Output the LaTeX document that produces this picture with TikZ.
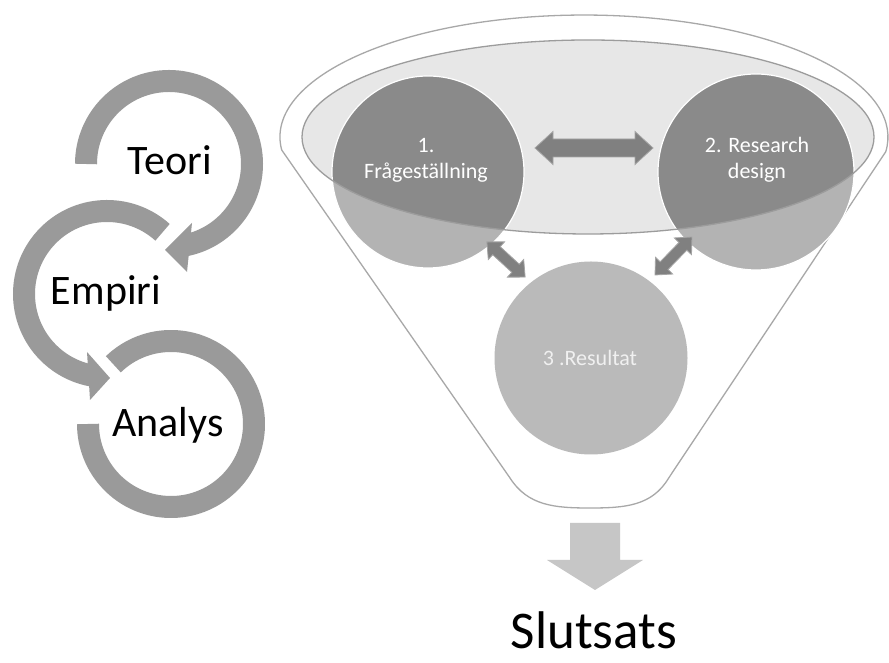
\documentclass[tikz,border=0pt]{standalone}
\usepackage{fontspec}
\setmainfont{Carlito}
\usetikzlibrary{calc}
\definecolor{cycgray}{HTML}{9A9A9A}
\definecolor{edgegray}{HTML}{A8A8A8}
\definecolor{ellfill}{HTML}{E7E7E7}
\definecolor{ellline}{HTML}{9C9C9C}
\definecolor{lobegray}{HTML}{B3B3B3}
\definecolor{coregray}{HTML}{8A8A8A}
\definecolor{resgray}{HTML}{BABABA}
\definecolor{dblgray}{HTML}{808080}
\definecolor{dbledge}{HTML}{A5A5A5}
\definecolor{downgray}{HTML}{C6C6C6}
\begin{document}
\begin{tikzpicture}[x=1pt,y=1pt,
  cycarc/.style={draw=cycgray, line width=22pt},
  cyctext/.style={font=\fontsize{42}{50}\selectfont, text=black, anchor=base, inner sep=0pt},
  bubble/.style={font=\fontsize{22}{26}\selectfont, text=white, align=center, inner sep=0pt},
  funnelline/.style={draw=edgegray, line width=1.3pt},
  disc/.style={circle, inner sep=0pt},
  pics/blockdbl/.style args={#1/#2/#3/#4}{code={
    \fill[dblgray, draw=dbledge, line width=0.8pt]
      ({-#1/2},0) -- ({-#1/2+#4},#3) -- ({-#1/2+#4},#2) -- ({#1/2-#4},#2)
      -- ({#1/2-#4},#3) -- ({#1/2},0) -- ({#1/2-#4},-#3) -- ({#1/2-#4},-#2)
      -- ({-#1/2+#4},-#2) -- ({-#1/2+#4},-#3) -- cycle;
  }},
]
\fill[white] (0,0) rectangle (889,663);
\useasboundingbox (0,0) rectangle (889,663);

% ---- cycle of three curved arrows ----
\coordinate (tc) at (169,499);
\coordinate (ec) at (107,369);
\coordinate (ac) at (171,239);

% Teori
\draw[cycarc] ($(tc)+(180:83)$) arc[start angle=180, end angle=-80, radius=83];
\fill[cycgray] (192,440) -- (165,413) -- (187,391) -- cycle;
% Empiri
\draw[cycarc] ($(ec)+(48:83)$) arc[start angle=48, end angle=263, radius=83];
\fill[cycgray] (87,311) -- (110,285) -- (90,263) -- cycle;
% Analys
\draw[cycarc] ($(ac)+(134:83)$) arc[start angle=134, end angle=-180, radius=83];

\node[cyctext] (teori) at (170,488) {Teori};
\node[cyctext] (empiri) at (106,358) {Empiri};
\node[cyctext] (analys) at (168,226) {Analys};

% ---- funnel ----
\draw[funnelline, fill=white] (281.7,513)
  arc[start angle=186.1, end angle=-6.9, x radius=304, y radius=122]
  -- (668.7,185) .. controls (652,157) and (625,155) .. (590,155)
  .. controls (555,155) and (528,157) .. (510,185) -- cycle;

% top disc of the funnel
\fill[ellfill] (588,526) ellipse[x radius=286, y radius=97];

% circles 1 and 2
\node[disc, minimum size=192pt, fill=lobegray] (c1) at (428,491) {};
\node[disc, minimum size=196pt, fill=lobegray] (c2) at (756,491) {};
\begin{scope}
  \clip (588,526) ellipse[x radius=286, y radius=97];
  \fill[coregray] (c1.center) circle[radius=96];
  \fill[coregray] (c2.center) circle[radius=98];
\end{scope}
\draw[white, line width=1.2pt] (c1.center) circle[radius=96];
\draw[white, line width=1.2pt] (c2.center) circle[radius=98];
\draw[ellline, line width=1.3pt] (588,526) ellipse[x radius=286, y radius=97];

% circle 3
\node[disc, minimum size=193pt, fill=resgray] (c3) at (591,305) {};

% double block arrows between the circles
\pic (a12) at (594,515) {blockdbl=118/9/16.5/18};
\pic[rotate=-42.6] (a13) at (506,403.5) {blockdbl=52/5.5/12/13};
\pic[rotate=45.8] (a23) at (673.5,407) {blockdbl=53/5.5/12/13};

% labels in the circles
\node[bubble] (t1) at (426,503) {1.\\Frågeställning};
\node[bubble] (t2) at (757,503) {2. Research\\design};
\node[bubble, text=white!94!black] (t3) at (590,305) {3 .Resultat};

% outlet arrow and conclusion
\fill[downgray] (570,140) -- (620,140) -- (620,103) -- (643,103) -- (595,73)
  -- (547,103) -- (570,103) -- cycle;
\node[font=\fontsize{53}{60}\selectfont, anchor=base, inner sep=0pt] (concl) at (594,14) {Slutsats};
\end{tikzpicture}
\end{document}
